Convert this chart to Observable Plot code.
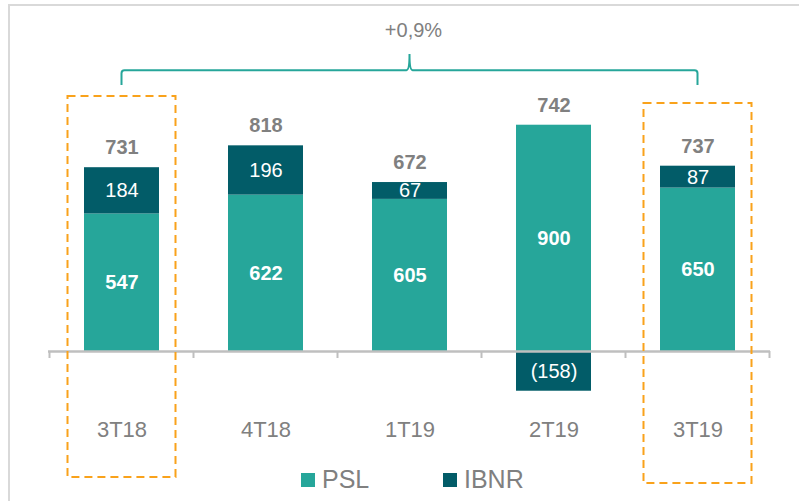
<!DOCTYPE html>
<html><head><meta charset="utf-8">
<script src="https://cdn.jsdelivr.net/npm/d3@7"></script>
<script src="https://cdn.jsdelivr.net/npm/@observablehq/plot@0.6"></script>
<style>body{margin:0;background:#fff;} svg{display:block}</style>
</head><body><div id="chart"></div>
<script>
const categories = ["3T18", "4T18", "1T19", "2T19", "3T19"];
const series = ["PSL", "IBNR"];
const psl = [547, 622, 605, 900, 650];
const ibnr = [184, 196, 67, -158, 87];
const totals = [731, 818, 672, 742, 737];
const ibnrLabels = ["184", "196", "67", "(158)", "87"];
const changeLabel = "+0,9%";
const highlighted = ["3T18", "3T19"];

const colors = {PSL: "#26A69A", IBNR: "#025C68"};
const gray = "#808080";
const font = "'Liberation Sans', Arial, sans-serif";

const rows = [];
categories.forEach((c, i) => {
  rows.push({cat: c, series: "PSL", value: psl[i], label: String(psl[i])});
  rows.push({cat: c, series: "IBNR", value: ibnr[i], label: ibnrLabels[i]});
});
const tops = categories.map((c, i) => ({cat: c, top: Math.max(0, psl[i]) + Math.max(0, ibnr[i]), total: totals[i]}));

const W = 799, H = 501;
const plot = Plot.plot({
  width: W, height: H,
  marginLeft: 48, marginRight: 29, marginTop: 0, marginBottom: 150,
  style: {fontFamily: font, background: "white", overflow: "visible"},
  x: {domain: categories, paddingInner: 0.48, paddingOuter: 0.24, label: null},
  y: {domain: [0, 1396], axis: null},
  color: {domain: series, range: [colors.PSL, colors.IBNR]},
  marks: [
    Plot.barY(rows, {x: "cat", y: "value", z: "series", fill: "series"}),
    Plot.ruleY([0], {stroke: "#bfbfbf", strokeWidth: 2.5}),
    Plot.text(rows, Plot.stackY({x: "cat", y: "value", z: "series",
      text: d => d.series === "PSL" ? d.label : null,
      fill: "white", fontWeight: "bold", fontSize: 20})),
    Plot.text(rows, Plot.stackY({x: "cat", y: "value", z: "series",
      text: d => d.series === "IBNR" ? d.label : null,
      fill: "white", fontSize: 20})),
    Plot.text(tops, {x: "cat", y: "top", text: "total", dy: -20, fill: gray, fontWeight: "bold", fontSize: 20}),
    Plot.axisX({tickSize: 0, tickPadding: 70, fontSize: 22, color: gray, fill: gray})
  ]
});
document.getElementById("chart").appendChild(plot);

// Annotations using the plot's own scales
const xs = plot.scale("x"), ys = plot.scale("y");
const svg = d3.select(plot);
const cx = c => xs.apply(c) + xs.bandwidth / 2;
const off = (xs.step - xs.bandwidth) / 2;
const y0 = ys.apply(0);

// outer frame
svg.insert("rect", ":first-child")
  .attr("x", 9).attr("y", 5).attr("width", 820).attr("height", 520)
  .attr("fill", "none").attr("stroke", "#d9d9d9").attr("stroke-width", 2);

// category boundary ticks
const bounds = categories.map(c => xs.apply(c) - off);
bounds.push(xs.apply(categories[categories.length - 1]) + xs.bandwidth + off);
svg.append("g").selectAll("line").data(bounds).join("line")
  .attr("x1", d => d).attr("x2", d => d)
  .attr("y1", y0).attr("y2", y0 + 7)
  .attr("stroke", "#bfbfbf").attr("stroke-width", 2);

// bracket
const bEnd = ys.apply(1058), bLvl = ys.apply(1117), bTop = ys.apply(1181);
const xa = cx(categories[0]), xb = cx(categories[categories.length - 1]), xm = cx(categories[2]);
const r = 3;
const p = d3.path();
p.moveTo(xa, bEnd);
p.lineTo(xa, bLvl + r);
p.quadraticCurveTo(xa, bLvl, xa + r, bLvl);
p.lineTo(xm - 3, bLvl);
p.quadraticCurveTo(xm, bLvl, xm, bTop);
p.quadraticCurveTo(xm, bLvl, xm + 3, bLvl);
p.lineTo(xb - r, bLvl);
p.quadraticCurveTo(xb, bLvl, xb, bLvl + r);
p.lineTo(xb, bEnd);
svg.append("path").attr("d", p.toString()).attr("fill", "none")
  .attr("stroke", colors.PSL).attr("stroke-width", 2);
svg.append("text").attr("x", xm + 4).attr("y", ys.apply(1250))
  .attr("text-anchor", "middle").attr("fill", gray)
  .attr("font-family", font).attr("font-size", 20).text(changeLabel);

// highlight boxes
const boxes = [
  {cat: highlighted[0], top: 1014, bottom: -501},
  {cat: highlighted[1], top: 986, bottom: -525}
];
const boxHalf = xs.bandwidth / 2 + 16.5;
svg.append("g").selectAll("rect").data(boxes).join("rect")
  .attr("x", d => cx(d.cat) - boxHalf).attr("width", 2 * boxHalf)
  .attr("y", d => ys.apply(d.top)).attr("height", d => ys.apply(d.bottom) - ys.apply(d.top))
  .attr("fill", "none").attr("stroke", "#F9A21B").attr("stroke-width", 2)
  .attr("stroke-dasharray", "8,5");

// legend
const lg = svg.append("g").attr("font-family", font).attr("text-anchor", "start");
const items = [{name: "PSL", x: 301}, {name: "IBNR", x: 443}];
items.forEach(it => {
  lg.append("rect").attr("x", it.x).attr("y", 473).attr("width", 14).attr("height", 14)
    .attr("fill", colors[it.name]);
  lg.append("text").attr("x", it.x + 21).attr("y", 488).attr("font-size", 25)
    .attr("text-anchor", "start").attr("fill", gray).text(it.name);
});
</script>
</body></html>
